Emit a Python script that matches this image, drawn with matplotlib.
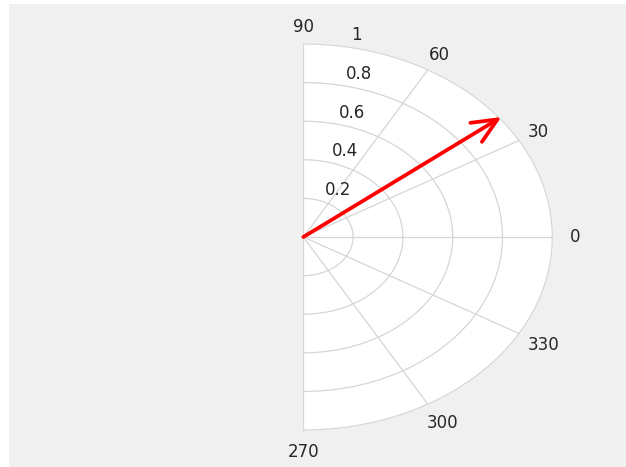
import numpy as np
import matplotlib
matplotlib.use('Agg')
import matplotlib.pyplot as plt
from matplotlib.patches import Rectangle

# compass vector (magnitude, direction in degrees)
magnitude = [1.01]
direction_deg = [38.0]

# polar grid
ring_values = [0.2, 0.4, 0.6, 0.8, 1.0]
ring_labels = ['0.2', '0.4', '0.6', '0.8', '1']
theta_ticks = [-90, -60, -30, 0, 30, 60, 90]
theta_labels = ['270', '300', '330', '0', '30', '60', '90']

GRID = '#d6d6d6'
TEXT = '#262626'
FS = 12

fig = plt.figure(figsize=(6.26, 4.67), dpi=100, facecolor='white')
# gray window background
fig.patches.append(Rectangle((9 / 626, 0), 1, 463 / 467, transform=fig.transFigure,
                             facecolor='#f0f0f0', edgecolor='none', zorder=-10))

# half-disc drawn in a plain cartesian axes so it can stretch with the box
ax = fig.add_axes([0.4845, 0.0792, 0.3978, 0.8266])
ax.set_xlim(0, 1)
ax.set_ylim(-1, 1)
ax.set_aspect('auto')
ax.axis('off')

t = np.linspace(-np.pi / 2, np.pi / 2, 361)
ax.fill(np.cos(t), np.sin(t), color='white', zorder=0, clip_on=False)
for r in ring_values:
    ax.plot(r * np.cos(t), r * np.sin(t), color=GRID, lw=0.9, zorder=1, clip_on=False)
for a in theta_ticks:
    ar = np.deg2rad(a)
    ax.plot([0, np.cos(ar)], [0, np.sin(ar)], color=GRID, lw=0.9, zorder=1, clip_on=False)

# angle labels just outside the rim
for a, lab in zip(theta_ticks, theta_labels):
    ar = np.deg2rad(a)
    rr = 1.09 if a >= 0 else 1.115
    ax.text(rr * np.cos(ar), rr * np.sin(ar), lab, ha='center', va='center',
            fontsize=FS, color=TEXT, clip_on=False)

# radius labels stacked above the origin
rlabel_x = [0.139, 0.167, 0.196, 0.224, 0.212]
for x, r, lab in zip(rlabel_x, ring_values, ring_labels):
    ax.text(x, r + 0.045, lab, ha='center', va='center',
            fontsize=FS, color=TEXT, clip_on=False)

# the compass arrow
for m, d in zip(magnitude, direction_deg):
    dr = np.deg2rad(d)
    ax.annotate('', xy=(m * np.cos(dr), m * np.sin(dr)), xytext=(0, 0),
                arrowprops=dict(arrowstyle='->,head_length=1.8,head_width=0.8',
                                mutation_scale=10, color='red', lw=2.7,
                                shrinkA=0, shrinkB=0),
                annotation_clip=False, zorder=3)

fig.savefig('out.png', dpi=100, facecolor=fig.get_facecolor())
